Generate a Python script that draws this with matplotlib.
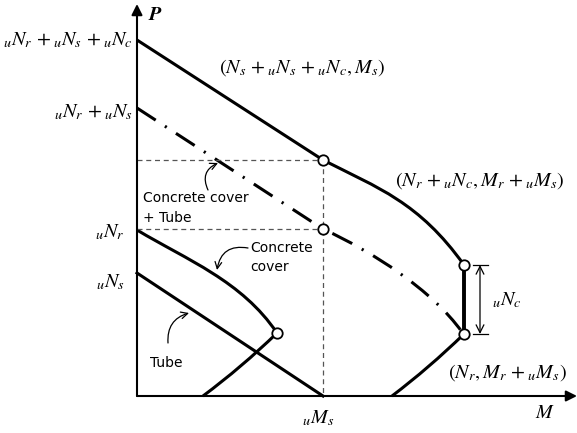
import matplotlib
matplotlib.use('Agg')
import matplotlib.pyplot as plt
from matplotlib.path import Path
from matplotlib.patches import PathPatch

plt.rcParams['mathtext.fontset'] = 'stix'
plt.rcParams['font.family'] = 'DejaVu Sans'

# interaction curves, M (moment) vs P (axial), in drawing units
# each curve: start point, then bezier control points
top_M = [0, 186, 241, 282, 327]
top_P = [356, 236, 208, 194, 131]
jump_M = [327, 327]
jump_P = [131, 62]
bottom_right_M = [327, 292, 255]
bottom_right_P = [62, 28, 0]

combined_M = [0, 186, 236, 295, 325]
combined_P = [288, 167, 144, 106, 64]

cover_M = [0, 50, 105, 140]
cover_P = [166, 136, 115, 63]
cover_tail_M = [140, 105, 66]
cover_tail_P = [63, 29, 0]

tube_M = [0, 186]
tube_P = [123, 0]

circle_M = [186, 186, 327, 327, 140]
circle_P = [236, 167, 131, 62, 63]

Ms_u = 186
P_levels = [236, 167]

fig = plt.figure(figsize=(5.77, 4.33), dpi=100)
ax = fig.add_axes([0, 0, 1, 1])
ax.set_xlim(-137, 440)
ax.set_ylim(-37, 396)
ax.axis('off')

lw = 2.2


def curve(M, P, codes, **kw):
    p = Path(list(zip(M, P)), codes)
    ax.add_patch(PathPatch(p, fill=False, edgecolor='k', lw=kw.pop('lw', lw), **kw))


# guide lines
for p in P_levels:
    ax.plot([0, Ms_u], [p, p], color='#555555', lw=0.9, ls=(0, (4, 3)))
ax.plot([Ms_u, Ms_u], [P_levels[0], 0], color='#555555', lw=0.9, ls=(0, (4, 3)))

C4 = Path.CURVE4
C3 = Path.CURVE3
curve(top_M, top_P, [Path.MOVETO, Path.LINETO, C4, C4, C4])
ax.plot(jump_M, jump_P, 'k', lw=lw + 0.6)
curve(bottom_right_M, bottom_right_P, [Path.MOVETO, C3, C3])
curve(combined_M, combined_P, [Path.MOVETO, Path.LINETO, C4, C4, C4],
      ls=(0, (7.3, 3.6, 0.7, 3.6)))
curve(cover_M, cover_P, [Path.MOVETO, C4, C4, C4])
curve(cover_tail_M, cover_tail_P, [Path.MOVETO, C3, C3])
ax.plot(tube_M, tube_P, 'k', lw=lw)
ax.plot(circle_M, circle_P, 'o', ms=7.5, mfc='white', mec='black', mew=1.3, zorder=5)

# axes with arrows
ax.annotate('', xy=(0, 392), xytext=(0, 0),
            arrowprops=dict(arrowstyle='-|>', color='k', lw=1.5, mutation_scale=16, shrinkA=0, shrinkB=0))
ax.annotate('', xy=(440, 0), xytext=(0, 0),
            arrowprops=dict(arrowstyle='-|>', color='k', lw=1.5, mutation_scale=16, shrinkA=0, shrinkB=0))

fs = 14.5
ax.text(-4, 356, r'${}_uN_r\,+{}_u N_s\,+{}_u N_c$', ha='right', va='center', fontsize=fs)
ax.text(-4, 284, r'${}_uN_r\,+{}_u N_s$', ha='right', va='center', fontsize=fs)
ax.text(-12, 164, r'${}_uN_r$', ha='right', va='center', fontsize=fs)
ax.text(-12, 114, r'${}_uN_s$', ha='right', va='center', fontsize=fs)
ax.text(11, 381, r'$\boldsymbol{P}$', ha='left', va='center', fontsize=fs)
ax.text(408, -16, r'$M$', ha='center', va='center', fontsize=fs)
ax.text(181, -22, r'${}_uM_s$', ha='center', va='center', fontsize=fs)
ax.text(165, 328, r'$(N_s\,+{}_u N_s\,+{}_u N_c ,M_s)$', ha='center', va='center', fontsize=fs)
ax.text(258, 215, r'$(N_r\,+{}_u N_c ,M_r\,+{}_u M_s)$', ha='left', va='center', fontsize=fs)
ax.text(311, 23, r'$(N_r ,M_r\,+{}_u M_s)$', ha='left', va='center', fontsize=fs)
ax.text(355, 96, r'${}_uN_c$', ha='left', va='center', fontsize=fs)

# dimension for uNc
ax.annotate('', xy=(343, 131), xytext=(343, 62),
            arrowprops=dict(arrowstyle='<->', color='k', lw=0.9, mutation_scale=14, shrinkA=0, shrinkB=0))
ax.plot([336, 351], [131, 131], 'k', lw=0.9)
ax.plot([336, 351], [62, 62], 'k', lw=0.9)

sfs = 10
ax.text(6, 198, 'Concrete cover', ha='left', va='center', fontsize=sfs)
ax.text(6, 178, '+ Tube', ha='left', va='center', fontsize=sfs)
ax.text(113, 148, 'Concrete', ha='left', va='center', fontsize=sfs)
ax.text(113, 129, 'cover', ha='left', va='center', fontsize=sfs)
ax.text(13, 33, 'Tube', ha='left', va='center', fontsize=sfs)

ap = dict(arrowstyle='->', color='k', lw=0.9, mutation_scale=12, shrinkA=0, shrinkB=0)
ax.annotate('', xy=(81, 233), xytext=(71, 206),
            arrowprops=dict(ap, connectionstyle='arc3,rad=-0.5'))
ax.annotate('', xy=(80, 126), xytext=(111, 148),
            arrowprops=dict(ap, connectionstyle='arc3,rad=0.5'))
ax.annotate('', xy=(52, 83), xytext=(31, 53),
            arrowprops=dict(ap, connectionstyle='arc3,rad=-0.4'))

fig.savefig('out.png', dpi=100)
